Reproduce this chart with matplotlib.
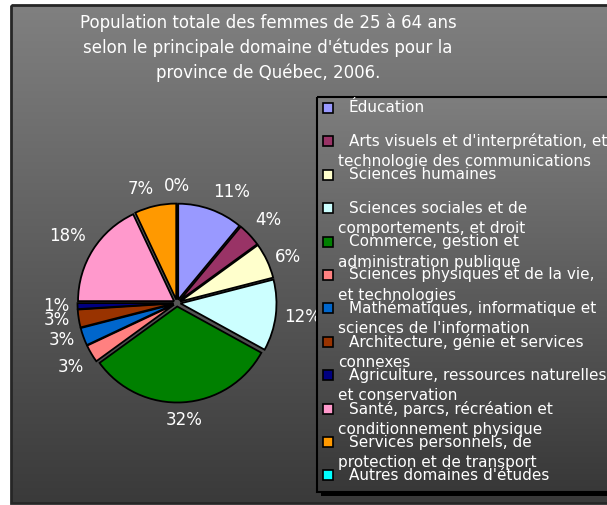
import matplotlib
matplotlib.use("Agg")
import matplotlib.pyplot as plt
from matplotlib.patches import Rectangle
import numpy as np

W, H = 607, 505

titre = ("Population totale des femmes de 25 à 64 ans\n"
         "selon le principale domaine d'études pour la\n"
         "province de Québec, 2006.")

domaines = [
    "Éducation",
    "Arts visuels et d'interprétation, et\ntechnologie des communications",
    "Sciences humaines",
    "Sciences sociales et de\ncomportements, et droit",
    "Commerce, gestion et\nadministration publique",
    "Sciences physiques et de la vie,\net technologies",
    "Mathématiques, informatique et\nsciences de l'information",
    "Architecture, génie et services\nconnexes",
    "Agriculture, ressources naturelles\net conservation",
    "Santé, parcs, récréation et\nconditionnement physique",
    "Services personnels, de\nprotection et de transport",
    "Autres domaines d'études",
]
pourcentages = [11, 4, 6, 12, 32, 3, 3, 3, 1, 18, 7, 0]
couleurs = ["#9999FF", "#993366", "#FFFFCC", "#CCFFFF", "#008000", "#FF8080",
            "#0066CC", "#993300", "#000080", "#FF99CC", "#FF9900", "#00FFFF"]

plt.rcParams["font.family"] = ["DejaVu Sans"]

fig = plt.figure(figsize=(W / 100, H / 100), dpi=100, facecolor="white")

# fond en dégradé (coordonnées en pixels)
bg = fig.add_axes([0, 0, 1, 1])
bg.set_xlim(0, W)
bg.set_ylim(H, 0)
bg.axis("off")
grad = np.linspace(128, 58, 256)[:, None] / 255.0
bg.imshow(np.dstack([grad, grad, grad]), extent=(11, W + 2, 503, 5),
          aspect="auto", interpolation="bilinear", zorder=0)
bg.add_patch(Rectangle((11, 5), W, 498, fill=False, edgecolor="#262626",
                       linewidth=2, zorder=1))
bg.text(268, 13, titre, ha="center", va="top", color="white",
        fontsize=12, linespacing=1.45, zorder=2)

# camembert : 1 unité = 100 px
R = 0.96
ax = fig.add_axes([(177 - 150) / W, (H - 303 - 150) / H, 300 / W, 300 / H])
wedges, _ = ax.pie(pourcentages, colors=couleurs, startangle=90,
                   counterclock=False, radius=R,
                   explode=[0.035] * len(pourcentages),
                   wedgeprops=dict(edgecolor="black", linewidth=1.3))

# étiquettes collées au bord extérieur, à la façon d'Excel
for w, p in zip(wedges, pourcentages):
    a = np.deg2rad((w.theta1 + w.theta2) / 2)
    c, s = np.cos(a), np.sin(a)
    ha = "left" if c > 0.1 else ("right" if c < -0.1 else "center")
    va = "bottom" if s > 0.5 else ("top" if s < -0.5 else "center")
    d = R * 1.125
    ax.text(d * c, d * s, f"{p}%", ha=ha, va=va, color="white",
            fontsize=12)

ax.set_xlim(-1.5, 1.5)
ax.set_ylim(-1.5, 1.5)
ax.set_aspect("equal")
ax.axis("off")

# légende dessinée à la main, par-dessus le camembert
lg = fig.add_axes([0, 0, 1, 1])
lg.set_xlim(0, W)
lg.set_ylim(H, 0)
lg.axis("off")
lx, ly, lh = 317, 97, 395
lg.add_patch(Rectangle((lx + 4, ly + 4), W, lh, facecolor="black",
                       edgecolor="none", zorder=1))
g2 = np.linspace(126, 56, 256)[:, None] / 255.0
lg.imshow(np.dstack([g2, g2, g2]), extent=(lx, W + 2, ly + lh, ly),
          aspect="auto", interpolation="bilinear", zorder=2)
lg.add_patch(Rectangle((lx, ly), W, lh, fill=False, edgecolor="black",
                       linewidth=1.5, zorder=3))
for i, (nom, c) in enumerate(zip(domaines, couleurs)):
    y = 108 + 33.4 * i
    lg.add_patch(Rectangle((323, y - 5), 10, 10, facecolor=c,
                           edgecolor="black", linewidth=1.2, zorder=4))
    lignes = nom.split("\n")
    lg.text(349, y, lignes[0], ha="left", va="center", color="white",
            fontsize=11, zorder=5)
    if len(lignes) > 1:
        lg.text(338, y + 20.5, lignes[1], ha="left", va="center",
                color="white", fontsize=11, zorder=5)

fig.savefig("out.png", dpi=100, facecolor="white")
